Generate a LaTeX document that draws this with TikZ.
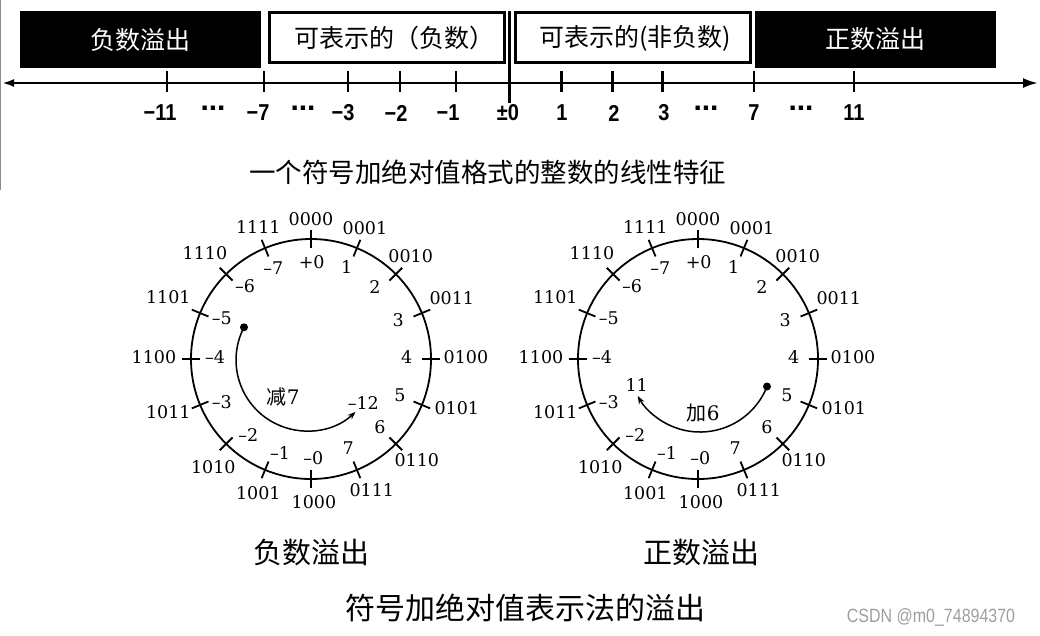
\documentclass[tikz,border=0pt]{standalone}
\usepackage{fontspec}
\newfontfamily\cjk{Noto Sans CJK SC}
\newfontfamily\arialf{Liberation Sans}
\newfontfamily\wheelf{DejaVu Serif}
\usetikzlibrary{calc,arrows.meta}
\newcommand\drawwheel[2]{%
  \node[draw,circle,minimum size=240pt,line width=1.8pt,inner sep=0] (#1c) at (#2) {};
  \foreach \k in {0,...,15} {
    \draw[wtick] ($(#2)+({90-22.5*\k}:111pt)$) -- ($(#2)+({90-22.5*\k}:129pt)$);
  }
  \foreach \k/\txt/\dx/\dy in {0/0000/0/-140, 1/0001/54/-130.7, 2/0010/99.7/-103,
      3/0011/140.8/-60.7, 4/0100/155/-2.3, 5/0101/145.8/49.3, 6/0110/105.8/101,
      7/0111/60.8/131, 8/1000/3/143.5, 9/1001/-52.7/134.3, 10/1010/-97.7/107.7,
      11/1011/-142.7/52.7, 12/1100/-157/-2.3, 13/1101/-142.7/-62.3,
      14/1110/-106/-105.7, 15/1111/-52.7/-132.3} {
    \node[num] (#1b\k) at ($(#2)+(\dx,\dy)$) {\txt};
  }
  \foreach \k/\txt/\dx/\dy in {0/+0/0.7/-97.3, 1/1/35.7/-92.3, 2/2/64/-71.7,
      3/3/87.3/-39, 4/4/95.7/-2.3, 5/5/89/36, 6/6/69/67.7, 7/7/37.3/89.3,
      8/\textendash0/2.3/99.3, 9/\textendash1/-31/94.3, 10/\textendash2/-62.7/76,
      11/\textendash3/-89.3/42.7, 12/\textendash4/-96/-2.3, 13/\textendash5/-89.3/-40.7,
      14/\textendash6/-66/-73, 15/\textendash7/-37.7/-90.7} {
    \node[num] (#1d\k) at ($(#2)+(\dx,\dy)$) {\txt};
  }
}
\begin{document}
\begin{tikzpicture}[x=1pt,y=-1pt,
  blackbox/.style={fill=black,draw=black,inner sep=0},
  whitebox/.style={draw=black,line width=3pt,fill=white,inner sep=0},
  boxtext/.style={font=\cjk\fontsize{25}{25}\selectfont,inner sep=0},
  axislbl/.style={font=\arialf\bfseries\fontsize{20}{20}\selectfont,inner sep=0},
  axdots/.style={font=\arialf\bfseries\fontsize{30}{30}\selectfont,inner sep=0},
  axtick/.style={line width=2.5pt},
  wtick/.style={line width=1.8pt},
  num/.style={font=\wheelf\fontsize{17.5}{17.5}\selectfont,inner sep=0},
  caption/.style={font=\cjk\fontsize{27}{27}\selectfont,inner sep=0},
  dot/.style={circle,fill=black,inner sep=0,minimum size=8pt},
  turn/.style={line width=1.5pt,-{Stealth[length=8pt,width=6pt]}},
]
\useasboundingbox (0,0) rectangle (1040,635);
\coordinate (g1) at (0.5,0);
\coordinate (g2) at (0.5,190);
\draw[black!45,line width=1pt] (g1) -- (g2);

% top boxes
\node[blackbox,minimum width=240pt,minimum height=56pt] (negbox) at (140,39) {};
\node[boxtext,text=white] (negtxt) at (140.5,40) {负数溢出};
\node[whitebox,minimum width=235pt,minimum height=50pt] (repneg) at (387,37.8) {};
\node[boxtext] (repnegtxt) at (394.5,38) {可表示的（负数）};
\node[whitebox,minimum width=235pt,minimum height=50pt] (reppos) at (632.5,37.8) {};
\node[boxtext] (reppostxt) at (635,38) {可表示的(非负数)};
\node[blackbox,minimum width=240pt,minimum height=56pt] (posbox) at (875,39) {};
\node[boxtext,text=white] (postxt) at (875,39) {正数溢出};

% axis
\coordinate (axL) at (2,83);
\coordinate (axR) at (1038,83);
\draw[line width=2.5pt,{Latex[length=12pt,width=8pt]}-{Latex[length=15pt,width=10pt]}] (axL) -- (axR);
\foreach \x in {167,264,348,400,456,561.6,612.5,662.7,754,854} {
  \draw[axtick] (\x,71) -- (\x,92);
}
\coordinate (zt) at (509.5,11);
\coordinate (zb) at (509.5,103);
\draw[line width=3pt] (zt) -- (zb);

\foreach \n/\txt/\x in {a/−11/160, c/−7/258,
    e/−3/343, f/−2/396, g/−1/448, h/±0/508, i/1/562, j/2/614, k/3/664,
    m/7/754, o/11/854} {
  \node[axislbl] (ax\n) at (\x,113) {\scalebox{1}[1.15]{\txt}};
}
\foreach \n/\x in {b/213, d/303, l/706, n/801} {
  \node[axdots] (ax\n) at (\x,108) {...};
}

\node[font=\cjk\fontsize{26.5}{26.5}\selectfont,inner sep=0] (title) at (487.5,172) {一个符号加绝对值格式的整数的线性特征};

% wheels
\coordinate (LC) at (311,359);
\coordinate (RC) at (698,359);
\drawwheel{L}{LC}
\drawwheel{R}{RC}

\node[dot] (ldot) at (244,327.3) {};
\draw[turn] (ldot.center) arc[start angle=152.6,end angle=313,radius=71pt];
\node[num,font=\cjk\fontsize{20}{20}\selectfont] (sub) at (283.3,396.7) {减\wheelf 7};
\node[num] (m12) at (363.3,403.3) {\textendash12};

\node[dot] (rdot) at (767,386.5) {};
\draw[turn] (rdot.center) arc[start angle=-21.6,end angle=-150,radius=72pt];
\node[num,font=\cjk\fontsize{20}{20}\selectfont] (add) at (703.3,413.3) {加\wheelf 6};
\node[num] (p11) at (636.7,385) {11};

% captions
\node[caption,font=\cjk\fontsize{29}{29}\selectfont] (capL) at (311,552) {负数溢出};
\node[caption,font=\cjk\fontsize{29}{29}\selectfont] (capR) at (701,552) {正数溢出};
\node[caption,font=\cjk\fontsize{30}{30}\selectfont] (capB) at (525,608) {符号加绝对值表示法的溢出};
\node[font=\arialf\fontsize{16}{16}\selectfont,text=black!38,inner sep=0] (wm) at (931,617) {\scalebox{1}[1.2]{CSDN @m0\_74894370}};
\end{tikzpicture}
\end{document}
